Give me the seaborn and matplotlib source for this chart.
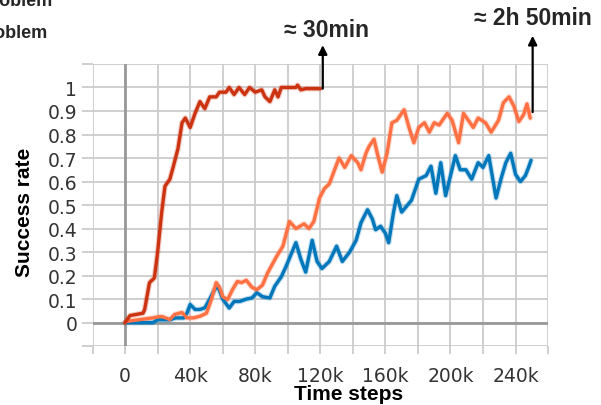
import numpy as np
import pandas as pd
import seaborn as sns
import matplotlib
matplotlib.use('Agg')
import matplotlib.pyplot as plt
from matplotlib.ticker import FuncFormatter

# values (steps in thousands)
red_steps = [0, 3, 7, 11, 12, 15, 18, 20, 22.5, 24.5, 27.5, 29.5, 32.5, 35, 37, 40, 43, 46, 49, 52,
             56, 58, 62, 64, 67, 70, 73.5, 76.5, 80, 84, 86, 89, 92, 94, 96, 99, 102, 105, 106, 108,
             111, 115, 120]
red_rate = [0, 0.03, 0.035, 0.04, 0.055, 0.17, 0.19, 0.3, 0.47, 0.58, 0.61, 0.66, 0.74, 0.85, 0.87,
            0.83, 0.89, 0.94, 0.91, 0.96, 0.96, 0.98, 0.98, 1.0, 0.97, 1.0, 0.97, 1.0, 0.98, 0.99,
            0.96, 0.94, 0.99, 0.96, 1.0, 1.0, 1.0, 1.0, 1.01, 0.99, 0.995, 0.995, 0.995]

blue_steps = [0, 7, 17, 20, 27.5, 31, 36, 38, 40, 43, 46, 49, 52, 55, 57, 60, 64, 67, 70.5, 74.5,
              78, 81, 84.5, 89, 92, 96, 99, 105, 108, 111, 115, 118, 121, 125.5, 130, 133.5, 138,
              142, 145, 149, 152, 154, 157, 160, 162, 165, 167, 170, 173, 176, 180.5, 185, 188,
              191, 194, 197, 200, 203, 206, 209.5, 213, 217, 220, 223.5, 228, 231, 234, 237, 240,
              243, 246, 248, 249.5]
blue_rate = [0, 0, 0, 0.012, 0.012, 0.02, 0.02, 0.04, 0.077, 0.056, 0.056, 0.063, 0.1, 0.14, 0.155,
             0.1, 0.062, 0.09, 0.09, 0.1, 0.105, 0.127, 0.11, 0.105, 0.155, 0.195, 0.24, 0.34, 0.27,
             0.215, 0.35, 0.26, 0.23, 0.26, 0.325, 0.26, 0.3, 0.35, 0.425, 0.48, 0.44, 0.395, 0.41,
             0.38, 0.34, 0.47, 0.54, 0.47, 0.495, 0.52, 0.61, 0.625, 0.665, 0.55, 0.68, 0.54, 0.625,
             0.71, 0.65, 0.65, 0.61, 0.68, 0.66, 0.71, 0.53, 0.61, 0.68, 0.72, 0.63, 0.6, 0.625,
             0.66, 0.69]

orange_steps = [0, 1, 17, 21, 23, 27.5, 30.5, 35, 38, 42, 46, 50, 53, 56, 58, 60, 63, 66, 69, 71.5,
                74.5, 78, 81, 84.5, 87.5, 93, 97, 101, 105, 110, 113, 116, 119.5, 122.5, 125.5,
                131.5, 135, 139, 143, 145, 148, 150, 153, 155, 158, 161, 164, 167, 171.5, 174.5,
                177.5, 180.5, 184, 187, 190, 193, 198, 201, 205, 208, 211, 214, 217, 221.5, 225,
                229.5, 232.5, 236, 239, 242, 245, 247, 249]
orange_rate = [0, 0.005, 0.02, 0.025, 0.025, 0.013, 0.035, 0.043, 0.02, 0.02, 0.027, 0.04, 0.098,
               0.17, 0.15, 0.11, 0.098, 0.14, 0.175, 0.17, 0.18, 0.15, 0.14, 0.16, 0.21, 0.28,
               0.325, 0.43, 0.40, 0.42, 0.40, 0.43, 0.53, 0.57, 0.59, 0.70, 0.66, 0.71, 0.68, 0.65,
               0.72, 0.75, 0.78, 0.72, 0.64, 0.72, 0.85, 0.86, 0.905, 0.83, 0.765, 0.83, 0.85, 0.81,
               0.85, 0.84, 0.89, 0.86, 0.765, 0.89, 0.86, 0.83, 0.87, 0.85, 0.81, 0.86, 0.935, 0.96,
               0.92, 0.855, 0.885, 0.93, 0.87]

x_ticks = list(range(-20, 261, 20))
y_ticks = [round(-0.1 + 0.1 * i, 1) for i in range(13)]

sns.set_style('white')
plt.rcParams['font.family'] = ['DejaVu Sans']

fig = plt.figure(figsize=(6.01, 4.06), dpi=100)
ax = fig.add_axes([0.154, 0.145, 0.758, 0.695])

grid_col = '#cccccc'
for s in x_ticks:
    ax.axvline(s * 1000, color=grid_col, lw=1.3, zorder=0)
for v in y_ticks:
    ax.axhline(v, color=grid_col, lw=1.3, zorder=0)
ax.axvline(0, color='#999999', lw=2, zorder=1)
ax.axhline(0, color='#999999', lw=2, zorder=1)

series = [(blue_steps, blue_rate, '#0077bb'),
          (orange_steps, orange_rate, '#ff7043'),
          (red_steps, red_rate, '#cc3311')]
for steps, rate, col in series:
    df = pd.DataFrame({'step': np.array(steps) * 1000, 'rate': rate})
    sns.lineplot(data=df, x='step', y='rate', ax=ax, color=col, lw=4, alpha=0.25, zorder=2)
    sns.lineplot(data=df, x='step', y='rate', ax=ax, color=col, lw=2.4, zorder=3)

ax.set_xlim(-20000, 260000)
ax.set_ylim(-0.1, 1.1)
ax.set_xticks([s * 1000 for s in x_ticks])
ax.xaxis.set_major_formatter(FuncFormatter(
    lambda x, p: '' if (x < 0 or x > 240000 or x % 40000) else ('0' if x == 0 else '%dk' % (x / 1000))))
ax.set_yticks(y_ticks)
ax.set_yticklabels(['' if (v < 0 or v > 1) else ('%g' % v) for v in y_ticks])
ax.tick_params(axis='x', length=6, width=1.3, color=grid_col, pad=8, labelsize=13.5, labelcolor='#333333')
ax.tick_params(axis='y', length=8, width=1.3, color=grid_col, pad=3, labelsize=13.5, labelcolor='#333333')
ax.tick_params(bottom=True, left=True)
for sp in ax.spines.values():
    sp.set_visible(False)

ax.set_xlabel('Time steps', fontsize=15, fontweight='bold', family='Liberation Sans', color='black')
ax.set_ylabel('Success rate', fontsize=15, fontweight='bold', family='Liberation Sans', color='black')
ax.xaxis.set_label_coords(0.5626, -0.167)
ax.yaxis.set_label_coords(-0.1486, 0.479)
ax.xaxis.label.set_va('center')
ax.yaxis.label.set_va('center')

arrow = dict(arrowstyle='-|>', color='black', lw=1.6, mutation_scale=13, shrinkA=0, shrinkB=0)
ax.annotate('', xy=(121500, 1.18), xytext=(121500, 0.995), arrowprops=arrow, annotation_clip=False)
ax.annotate('', xy=(250500, 1.22), xytext=(250500, 0.895), arrowprops=arrow, annotation_clip=False)
ax.text(124000, 1.247, '≈ 30min', ha='center', va='center', fontsize=16.5, fontweight='bold',
        family='Liberation Sans', clip_on=False)
ax.text(250500, 1.298, '≈ 2h 50min', ha='center', va='center', fontsize=16.5, fontweight='bold',
        family='Liberation Sans', clip_on=False)

# legend-like captions cut off at the left edge in the original
fig.text(53 / 601, 1 - 6 / 406, 'Problem', ha='right', va='baseline', fontsize=13,
         fontweight='bold', family='Liberation Sans')
fig.text(48 / 601, 1 - 38 / 406, 'Problem', ha='right', va='baseline', fontsize=13,
         fontweight='bold', family='Liberation Sans')

fig.savefig('out.png', dpi=100)
